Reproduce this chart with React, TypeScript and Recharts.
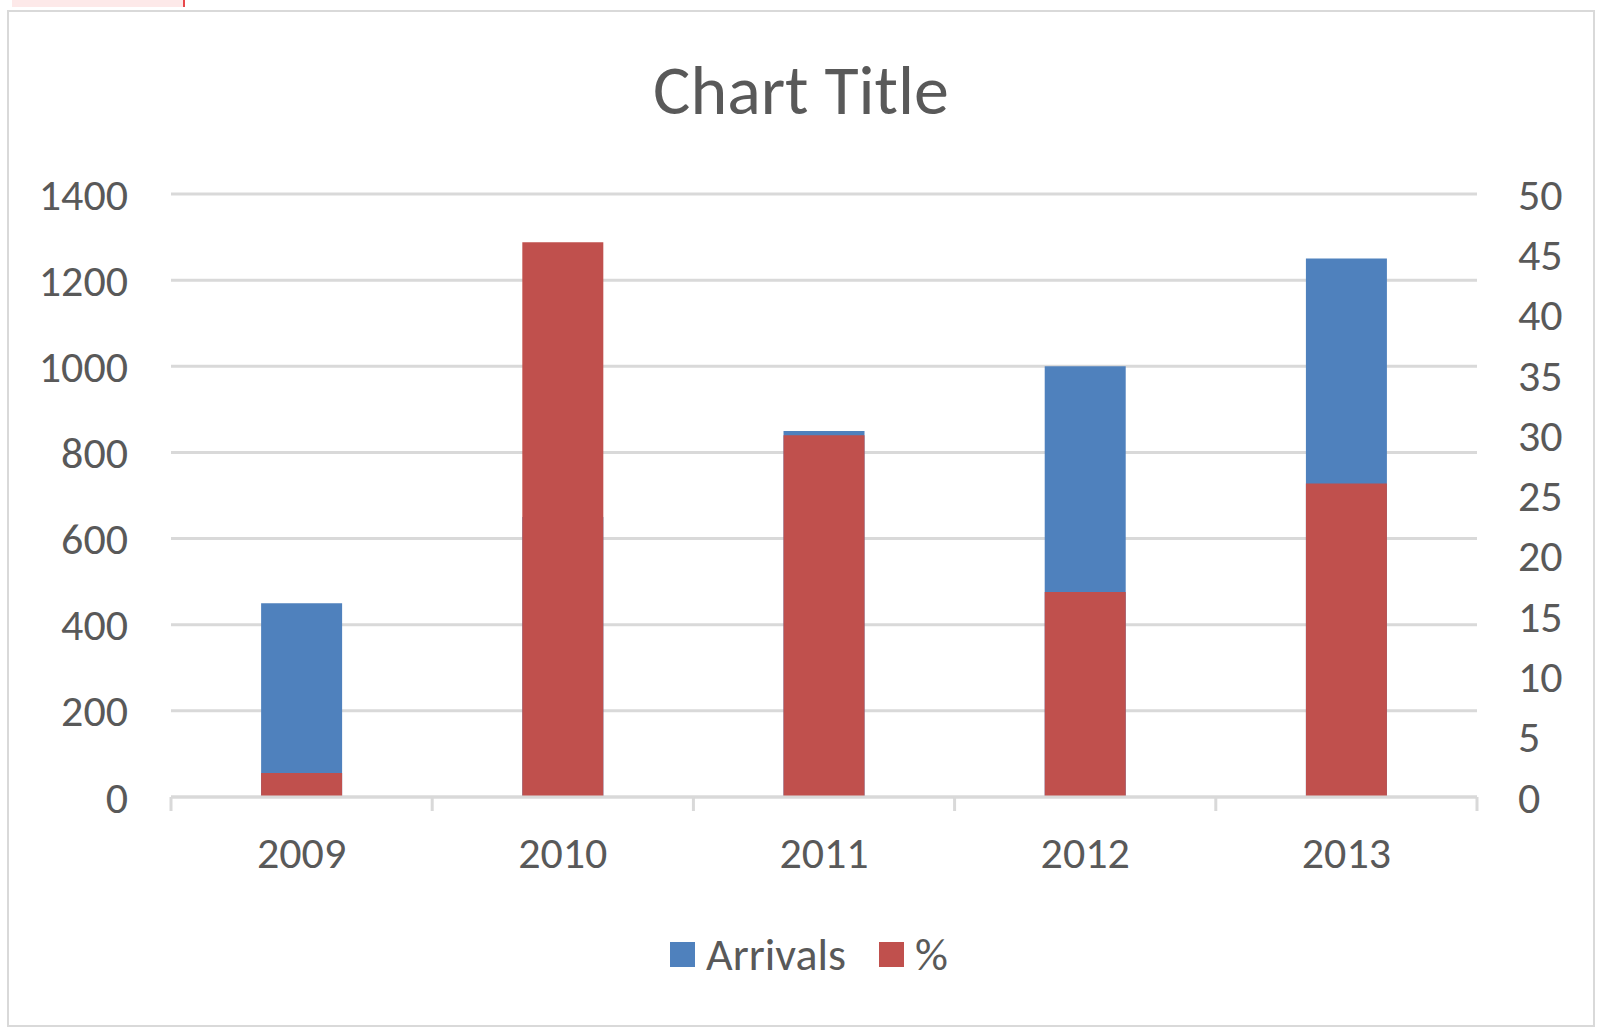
import { BarChart, Bar, XAxis, YAxis, CartesianGrid, Legend } from "recharts";

const YEARS = ["2009", "2010", "2011", "2012", "2013"];
const ARRIVALS = [450, 650, 850, 1000, 1250];
const PERCENT = [2, 46, 30, 17, 26];
const LEFT_TICKS = [0, 200, 400, 600, 800, 1000, 1200, 1400];
const RIGHT_TICKS = [0, 5, 10, 15, 20, 25, 30, 35, 40, 45, 50];
const SERIES_ORDER = ["Arrivals", "%"];

const data = YEARS.map((year, i) => ({ year, arrivals: ARRIVALS[i], percent: PERCENT[i] }));

const BLUE = "#4F81BD";
const RED = "#C0504D";
const TEXT = "#595959";
const GRID = "#D9D9D9";
const FONT = "Calibri, Carlito, Lato, sans-serif";

const CHART_W = 1584;
const CHART_H = 1013;
const LEFT_W = 162;
const RIGHT_W = 116;
const TOP = 182;
const BOTTOM = 228;
const BAND = (CHART_W - LEFT_W - RIGHT_W) / YEARS.length;

function YearTick(props: any) {
  const { x, y, payload, index } = props;
  return (
    <g>
      <line x1={x - BAND / 2} x2={x - BAND / 2} y1={y} y2={y + 14} stroke={GRID} strokeWidth={3} />
      {index === YEARS.length - 1 && (
        <line x1={x + BAND / 2} x2={x + BAND / 2} y1={y} y2={y + 14} stroke={GRID} strokeWidth={3} />
      )}
      <text x={x} y={y + 71} textAnchor="middle" fill={TEXT} fontSize={44} fontFamily={FONT}>
        {payload.value}
      </text>
    </g>
  );
}

function LegendContent({ payload }: any) {
  const items = [...(payload || [])].sort(
    (a: any, b: any) => SERIES_ORDER.indexOf(a.value) - SERIES_ORDER.indexOf(b.value)
  );
  return (
    <div style={{ display: "flex", justifyContent: "center", alignItems: "center", paddingLeft: 16, height: 52 }}>
      {items.map((p: any, i: number) => (
        <div key={i} style={{ display: "flex", alignItems: "center", marginRight: i === 0 ? 33 : 0 }}>
          <span style={{ width: 25, height: 25, background: p.color, display: "inline-block", marginRight: 11 }} />
          <span style={{ fontSize: 46, color: TEXT, fontFamily: FONT, lineHeight: "52px" }}>{p.value}</span>
        </div>
      ))}
    </div>
  );
}

export default function App() {
  return (
    <div style={{ position: "absolute", left: 0, top: 0, width: 1600, height: 1036, background: "#fff" }}>
      <div style={{ position: "absolute", left: 12, top: 0, width: 171, height: 7, background: "#FDE9E9" }} />
      <div style={{ position: "absolute", left: 183, top: 0, width: 2, height: 7, background: "#E8474B" }} />
      <div
        style={{
          position: "absolute",
          left: 7,
          top: 10,
          width: 1588,
          height: 1017,
          border: `2px solid ${GRID}`,
          boxSizing: "border-box",
          background: "#fff",
        }}
      >
        <div
          style={{
            position: "absolute",
            left: 0,
            top: 43,
            width: "100%",
            textAlign: "center",
            fontFamily: FONT,
            fontSize: 70,
            lineHeight: "70px",
            color: TEXT,
          }}
        >
          Chart Title
        </div>
        <BarChart
          width={CHART_W}
          height={CHART_H}
          data={data}
          margin={{ top: TOP, right: 0, bottom: 0, left: 0 }}
          barCategoryGap="34.5%"
          style={{ fontFamily: FONT }}
        >
          <CartesianGrid xAxisId="a" yAxisId="left" vertical={false} stroke={GRID} strokeWidth={3} />
          <XAxis
            xAxisId="a"
            dataKey="year"
            height={BOTTOM}
            axisLine={{ stroke: GRID, strokeWidth: 3 }}
            tickLine={false}
            tickSize={0}
            tickMargin={0}
            tick={<YearTick />}
            interval={0}
          />
          <XAxis xAxisId="b" dataKey="year" hide />
          <YAxis
            yAxisId="left"
            width={LEFT_W}
            domain={[0, 1400]}
            ticks={LEFT_TICKS}
            axisLine={false}
            tickLine={false}
            tickSize={0}
            tickMargin={43}
            tick={{ fill: TEXT, fontSize: 44, fontFamily: FONT }}
          />
          <YAxis
            yAxisId="right"
            orientation="right"
            width={RIGHT_W}
            domain={[0, 50]}
            ticks={RIGHT_TICKS}
            axisLine={false}
            tickLine={false}
            tickSize={0}
            tickMargin={41}
            tick={{ fill: TEXT, fontSize: 44, fontFamily: FONT, textAnchor: "start" }}
          />
          <Bar xAxisId="a" yAxisId="left" dataKey="arrivals" name="Arrivals" fill={BLUE} isAnimationActive={false} />
          <Bar xAxisId="b" yAxisId="right" dataKey="percent" name="%" fill={RED} isAnimationActive={false} />
          <Legend
            layout="horizontal"
            verticalAlign="middle"
            align="center"
            content={<LegendContent />}
            wrapperStyle={{ top: 916, left: 0, width: CHART_W }}
          />
        </BarChart>
      </div>
    </div>
  );
}
